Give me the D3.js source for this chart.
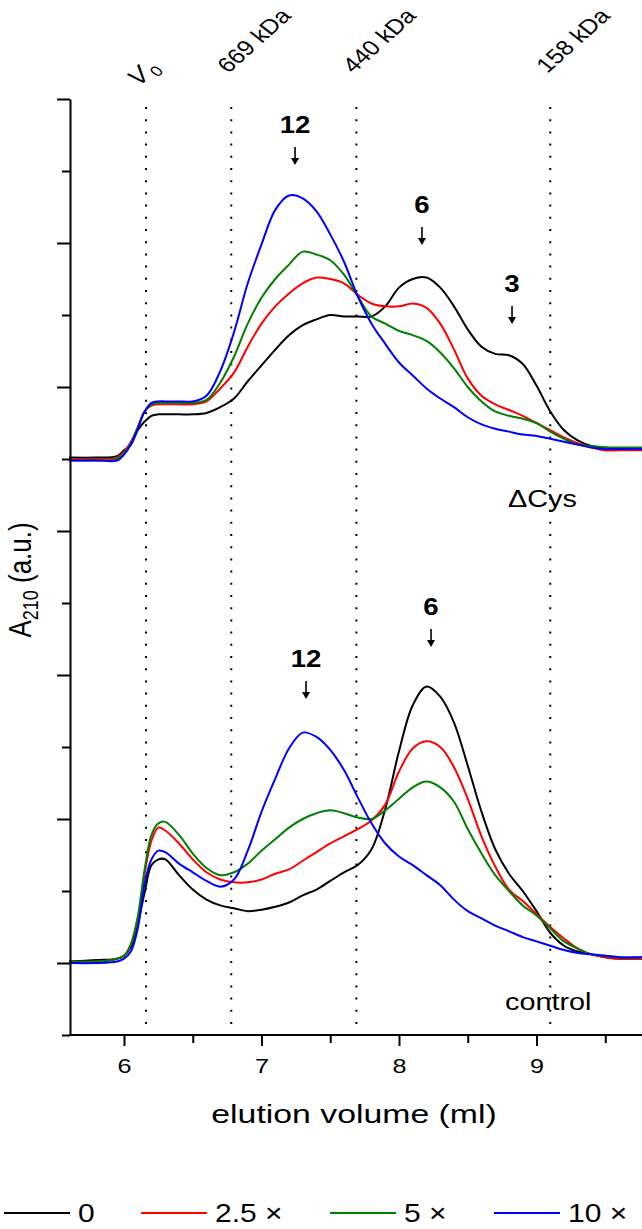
<!DOCTYPE html>
<html><head><meta charset="utf-8">
<script src="https://cdn.jsdelivr.net/npm/d3@7"></script>
<style>
body{margin:0;background:#fff}
svg{display:block}
text{font-family:"Liberation Sans",Arial,sans-serif;fill:#000}
</style>
</head><body>
<svg id="chart" width="642" height="1229"></svg>
<script>
// ---- data ----
const volume = [5.6,5.8,5.95,6.0,6.05,6.1,6.15,6.2,6.25,6.3,6.4,6.5,6.6,6.7,6.8,6.9,7.0,7.1,7.2,7.3,7.4,7.5,7.6,7.7,7.8,7.9,8.0,8.1,8.2,8.3,8.4,8.5,8.6,8.7,8.8,8.9,9.0,9.1,9.2,9.3,9.4,9.5,9.6,9.78];

// ΔCys (upper, offset traces)
const dcys_0   = [3.51,3.51,3.52,3.56,3.60,3.70,3.76,3.80,3.81,3.81,3.81,3.81,3.82,3.86,3.92,4.04,4.15,4.26,4.36,4.43,4.47,4.50,4.49,4.49,4.49,4.56,4.69,4.75,4.76,4.69,4.56,4.40,4.28,4.23,4.22,4.16,4.01,3.83,3.70,3.63,3.59,3.58,3.57,3.57];
const dcys_2_5 = [3.50,3.50,3.51,3.55,3.62,3.72,3.83,3.87,3.88,3.88,3.88,3.88,3.90,3.99,4.10,4.28,4.44,4.56,4.65,4.72,4.76,4.75,4.72,4.64,4.58,4.56,4.56,4.58,4.55,4.44,4.26,4.06,3.94,3.88,3.84,3.80,3.75,3.70,3.65,3.61,3.58,3.56,3.56,3.56];
const dcys_5   = [3.49,3.49,3.50,3.54,3.61,3.72,3.83,3.88,3.89,3.89,3.89,3.89,3.91,4.03,4.21,4.44,4.62,4.75,4.85,4.94,4.92,4.88,4.78,4.63,4.49,4.44,4.39,4.36,4.32,4.24,4.13,4.00,3.90,3.83,3.80,3.78,3.75,3.69,3.64,3.60,3.59,3.58,3.58,3.58];
const dcys_10  = [3.49,3.49,3.49,3.53,3.60,3.71,3.83,3.89,3.90,3.90,3.90,3.90,3.94,4.11,4.38,4.72,4.99,5.23,5.33,5.31,5.22,5.06,4.87,4.63,4.44,4.30,4.17,4.08,3.99,3.92,3.86,3.79,3.74,3.71,3.69,3.67,3.66,3.64,3.62,3.60,3.58,3.57,3.57,3.57];

// control (lower traces)
const ctrl_0   = [0.01,0.02,0.03,0.05,0.11,0.27,0.49,0.68,0.72,0.72,0.61,0.51,0.44,0.40,0.38,0.36,0.37,0.39,0.42,0.47,0.51,0.57,0.63,0.68,0.79,1.07,1.47,1.79,1.92,1.85,1.67,1.37,1.05,0.79,0.62,0.50,0.36,0.21,0.12,0.08,0.06,0.04,0.03,0.03];
const ctrl_2_5 = [0.01,0.01,0.03,0.05,0.13,0.31,0.62,0.85,0.94,0.92,0.83,0.72,0.63,0.58,0.56,0.56,0.58,0.62,0.65,0.71,0.77,0.83,0.88,0.93,0.99,1.10,1.33,1.49,1.54,1.50,1.36,1.14,0.88,0.67,0.51,0.43,0.34,0.25,0.17,0.10,0.06,0.04,0.03,0.03];
const ctrl_5   = [0.01,0.01,0.03,0.05,0.13,0.32,0.65,0.89,0.97,0.98,0.89,0.76,0.66,0.61,0.63,0.69,0.78,0.86,0.94,1.00,1.04,1.06,1.04,1.01,1.00,1.06,1.14,1.22,1.26,1.22,1.12,0.93,0.76,0.61,0.50,0.40,0.33,0.24,0.15,0.10,0.06,0.05,0.04,0.04];
const ctrl_10  = [0.00,0.00,0.01,0.03,0.08,0.24,0.55,0.72,0.78,0.77,0.69,0.63,0.57,0.53,0.58,0.78,1.05,1.28,1.49,1.60,1.57,1.48,1.34,1.15,0.97,0.83,0.74,0.68,0.61,0.54,0.44,0.36,0.31,0.26,0.22,0.18,0.15,0.12,0.09,0.07,0.06,0.05,0.04,0.04];

const seriesLabels = ["0", "2.5 \u00d7", "5 \u00d7", "10 \u00d7"];
const seriesColors = ["#000000", "#ff0000", "#008000", "#0000ff"];

const xMajorTicks = [6, 7, 8, 9];
const xMinorTicks = [6.5, 7.5, 8.5, 9.5];
const yMajorTicks = [0, 1, 2, 3, 4, 5, 6];
const yMinorTicks = [-0.5, 0.5, 1.5, 2.5, 3.5, 4.5, 5.5];

const markerLabels  = ["669 kDa", "440 kDa", "158 kDa"];
const markerVolumes = [6.78, 7.69, 9.10];
const voidVolume = 6.16;

const annotText   = ["12", "6", "3", "12", "6"];
const annotVolume = [7.244, 8.167, 8.822, 7.324, 8.233];
const annotLevel  = [5.764, 5.208, 4.66, 2.056, 2.417];

const panelLabels = ["\u0394Cys", "control"];
const panelVolume = [8.793, 8.771];
const panelLevel  = [3.17, -0.326];

// ---- layout ----
const svg = d3.select("#chart");
const SX = 1.2; // horizontal text stretch of the original figure
const x = d3.scaleLinear().domain([5.6, 9.78]).range([69, 643.75]);
const y = d3.scaleLinear().domain([-0.5, 6]).range([1035, 99]);

// dotted reference lines
const allMarkers = [voidVolume].concat(markerVolumes);
svg.append("g").selectAll("line").data(allMarkers).join("line")
  .attr("x1", d => x(d)).attr("x2", d => x(d))
  .attr("y1", y(6) + 8).attr("y2", y(-0.5))
  .attr("stroke", "#000").attr("stroke-width", 2)
  .attr("stroke-dasharray", "2 10.2");

// curves
const line = d3.line().x((d, i) => x(volume[i])).y(d => y(d)).curve(d3.curveCatmullRom.alpha(0.5));
const upper = [dcys_0, dcys_2_5, dcys_5, dcys_10];
const lower = [ctrl_0, ctrl_2_5, ctrl_5, ctrl_10];
const gc = svg.append("g");
[upper, lower].forEach(group => {
  group.forEach((s, k) => {
    gc.append("path").attr("d", line(s)).attr("fill", "none")
      .attr("stroke", seriesColors[k]).attr("stroke-width", 2)
      .attr("stroke-linejoin", "round");
  });
});

// axes
function styleAxis(g) {
  g.selectAll("path,line").attr("stroke", "#000").attr("stroke-width", 2);
}
const xMaj = svg.append("g").attr("transform", `translate(0,${y(-0.5)})`)
  .call(d3.axisBottom(x).tickValues(xMajorTicks).tickSize(11).tickSizeOuter(0).tickFormat(d3.format("d")));
styleAxis(xMaj);
xMaj.select(".domain").attr("d", `M${x(5.6)},0H642`);
xMaj.selectAll("text").attr("y", 38).attr("dy", null)
  .attr("font-size", 21).attr("font-family", "Liberation Sans, Arial, sans-serif")
  .attr("transform", `scale(${SX},1)`);
const xMin = svg.append("g").attr("transform", `translate(0,${y(-0.5)})`)
  .call(d3.axisBottom(x).tickValues(xMinorTicks).tickSize(8).tickFormat(""));
styleAxis(xMin); xMin.select(".domain").remove();

const yMaj = svg.append("g").attr("transform", `translate(${x(5.6) + 1},0)`)
  .call(d3.axisLeft(y).tickValues(yMajorTicks).tickSize(13).tickSizeOuter(0).tickFormat(""));
styleAxis(yMaj);
const yMin = svg.append("g").attr("transform", `translate(${x(5.6) + 1},0)`)
  .call(d3.axisLeft(y).tickValues(yMinorTicks).tickSize(8).tickFormat(""));
styleAxis(yMin); yMin.select(".domain").remove();

// axis titles
svg.append("text")
  .attr("transform", `translate(354,1123) scale(1.3,1)`)
  .attr("text-anchor", "middle").attr("font-size", 26)
  .text("elution volume (ml)");
const yt = svg.append("text")
  .attr("transform", `translate(31,580) scale(${SX},1) rotate(-90)`)
  .attr("text-anchor", "middle").attr("font-size", 26);
yt.append("tspan").text("A");
yt.append("tspan").attr("font-size", 18).attr("dy", 6).text("210");
yt.append("tspan").attr("dy", -6).text(" (a.u.)");

// rotated marker labels
markerLabels.forEach((t, i) => {
  svg.append("text")
    .attr("transform", `translate(${x(markerVolumes[i]) - 3},74) scale(${SX},1) rotate(-47)`)
    .attr("font-size", 21).text(t);
});
const v0 = svg.append("text")
  .attr("transform", `translate(${x(voidVolume) - 7},87) scale(${SX},1) rotate(-47)`)
  .attr("font-size", 23);
v0.append("tspan").attr("font-style", "italic").text("V");
v0.append("tspan").attr("font-size", 15).attr("dy", 5).attr("dx", 2).text("0");

// oligomer annotations with arrows
annotText.forEach((t, i) => {
  const ax = x(annotVolume[i]), ay = y(annotLevel[i]);
  svg.append("text")
    .attr("transform", `translate(${ax},${ay}) scale(${SX},1)`)
    .attr("text-anchor", "middle").attr("font-size", 23).attr("font-weight", "bold")
    .text(t);
  svg.append("line").attr("x1", ax).attr("x2", ax).attr("y1", ay + 14).attr("y2", ay + 28)
    .attr("stroke", "#000").attr("stroke-width", 1.6);
  svg.append("path")
    .attr("d", `M${ax - 4},${ay + 25}L${ax + 4},${ay + 25}L${ax},${ay + 32}Z`)
    .attr("fill", "#000");
});

// panel labels
panelLabels.forEach((t, i) => {
  svg.append("text")
    .attr("transform", `translate(${x(panelVolume[i])},${y(panelLevel[i])}) scale(${SX},1)`)
    .attr("font-size", 24).text(t);
});

// legend
const legendX = [4, 141, 330, 494];
const lg = svg.append("g");
seriesLabels.forEach((t, k) => {
  lg.append("line").attr("x1", legendX[k]).attr("x2", legendX[k] + 66)
    .attr("y1", 1213).attr("y2", 1213)
    .attr("stroke", seriesColors[k]).attr("stroke-width", 2);
  lg.append("text")
    .attr("transform", `translate(${legendX[k] + 74},1222) scale(${SX},1)`)
    .attr("font-size", 25).text(t);
});
</script>
</body></html>
